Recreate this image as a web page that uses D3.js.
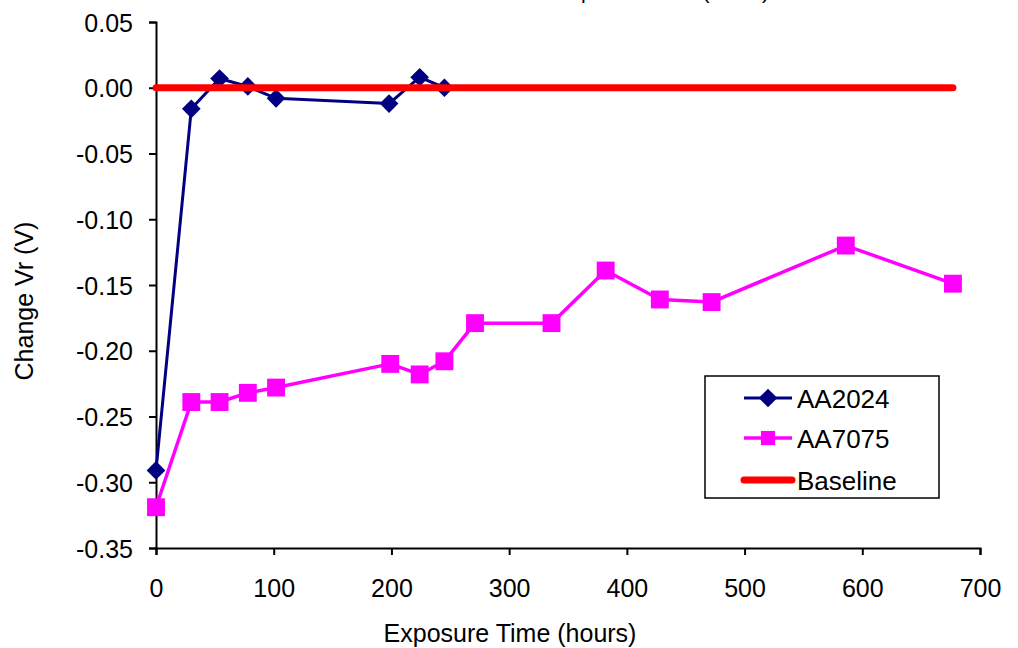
<!DOCTYPE html>
<html>
<head>
<meta charset="utf-8">
<script src="https://cdn.jsdelivr.net/npm/d3@7"></script>
<style>
  html, body { margin: 0; padding: 0; background: #fff; }
  svg { display: block; font-family: "Liberation Sans", Arial, sans-serif; }
</style>
</head>
<body>
<svg id="chart" width="1018" height="648"></svg>
<script>
// ---- data ----
const hoursAA2024 = [0, 30, 54, 78, 102, 198, 224, 245];
const valuesAA2024 = [-0.291, -0.016, 0.007, 0.001, -0.008, -0.012, 0.008, 0.000];
const hoursAA7075 = [0, 30, 54, 78, 102, 199, 224, 245, 271, 336, 382, 428, 472, 586, 677];
const valuesAA7075 = [-0.319, -0.239, -0.239, -0.232, -0.228, -0.210, -0.218, -0.208, -0.179, -0.179, -0.139, -0.161, -0.163, -0.120, -0.149];
const hoursBaseline = [0, 677];
const valuesBaseline = [0, 0];
const xTicks = [0, 100, 200, 300, 400, 500, 600, 700];
const yTicks = [0.05, 0.00, -0.05, -0.10, -0.15, -0.20, -0.25, -0.30, -0.35];
const seriesNames = ["AA2024", "AA7075", "Baseline"];
const titleText = "Rest Potential Shift vs. Exposure Time (hours)";
const xTitle = "Exposure Time (hours)";
const yTitle = "Change Vr (V)";

// ---- layout ----
const svg = d3.select("#chart");
const x = d3.scaleLinear().domain([0, 700]).range([156, 980]);
const y = d3.scaleLinear().domain([-0.35, 0.05]).range([548, 22]);

// title (cut off at top, as in the reference)
svg.append("text")
  .attr("x", 769).attr("y", -1)
  .attr("text-anchor", "end")
  .attr("font-size", 21)
  .attr("fill", "#000")
  .text(titleText);

// axes
const fmtY = d => d3.format(".2f")(d).replace("\u2212", "-");
const xAxis = d3.axisBottom(x).tickValues(xTicks).tickSize(7).tickSizeOuter(7)
  .tickFormat(d3.format("d"));
const yAxis = d3.axisLeft(y).tickValues(yTicks).tickSize(7).tickSizeOuter(7).tickPadding(16)
  .tickFormat(fmtY);

const gx = svg.append("g").attr("transform", `translate(0,${y(-0.35)})`).call(xAxis);
const gy = svg.append("g").attr("transform", `translate(${x(0)},0)`).call(yAxis);
[gx, gy].forEach(g => {
  g.selectAll("path").attr("stroke", "#000").attr("stroke-width", 2);
  g.selectAll("line").attr("stroke", "#000").attr("stroke-width", 2);
  g.selectAll("text").attr("font-size", 25).attr("fill", "#000")
    .attr("font-family", "'Liberation Sans', Arial, sans-serif");
});
gx.selectAll(".tick text").attr("dy", null).attr("y", 49);
gy.selectAll("text").attr("dy", "0.36em");

// axis titles
svg.append("text")
  .attr("x", 510).attr("y", 642)
  .attr("text-anchor", "middle")
  .attr("font-size", 25)
  .text(xTitle);
svg.append("text")
  .attr("transform", "translate(33,301) rotate(-90)")
  .attr("text-anchor", "middle")
  .attr("font-size", 25)
  .text(yTitle);

// series
const line = d3.line().x(d => x(d[0])).y(d => y(d[1]));
const d2024 = hoursAA2024.map((h, i) => [h, valuesAA2024[i]]);
const d7075 = hoursAA7075.map((h, i) => [h, valuesAA7075[i]]);
const dBase = hoursBaseline.map((h, i) => [h, valuesBaseline[i]]);

const colors = { AA2024: "#000080", AA7075: "#FF00FF", Baseline: "#FF0000" };
const diamond = d3.symbol().type(d3.symbolSquare).size(175);
const square = d3.symbol().type(d3.symbolSquare).size(320);

// AA2024
svg.append("path").datum(d2024).attr("d", line)
  .attr("fill", "none").attr("stroke", colors.AA2024).attr("stroke-width", 3)
  .attr("stroke-linejoin", "round");
svg.append("g").selectAll("path").data(d2024).join("path")
  .attr("d", diamond)
  .attr("transform", d => `translate(${x(d[0])},${y(d[1])}) rotate(45)`)
  .attr("fill", colors.AA2024);

// AA7075
svg.append("path").datum(d7075).attr("d", line)
  .attr("fill", "none").attr("stroke", colors.AA7075).attr("stroke-width", 3.5)
  .attr("stroke-linejoin", "round");
svg.append("g").selectAll("path").data(d7075).join("path")
  .attr("d", square)
  .attr("transform", d => `translate(${x(d[0])},${y(d[1])})`)
  .attr("fill", colors.AA7075);

// Baseline
svg.append("path").datum(dBase).attr("d", line)
  .attr("fill", "none").attr("stroke", colors.Baseline).attr("stroke-width", 7)
  .attr("stroke-linecap", "round");

// legend
const lg = svg.append("g");
lg.append("rect").attr("x", 705).attr("y", 376).attr("width", 234).attr("height", 122)
  .attr("fill", "#fff").attr("stroke", "#000").attr("stroke-width", 1.5);
const rows = [398, 438, 480];
seriesNames.forEach((name, i) => {
  const ry = rows[i];
  lg.append("line").attr("x1", 744).attr("x2", 792).attr("y1", ry).attr("y2", ry)
    .attr("stroke", colors[name])
    .attr("stroke-width", name === "Baseline" ? 7 : (name === "AA7075" ? 3.5 : 3))
    .attr("stroke-linecap", name === "Baseline" ? "round" : "butt");
  if (name === "AA2024") {
    lg.append("path").attr("d", diamond).attr("transform", `translate(768,${ry}) rotate(45)`).attr("fill", colors[name]);
  } else if (name === "AA7075") {
    lg.append("path").attr("d", d3.symbol().type(d3.symbolSquare).size(200)()).attr("transform", `translate(768,${ry})`).attr("fill", colors[name]);
  }
  lg.append("text").attr("x", 797).attr("y", ry + 10).attr("font-size", 26).attr("fill", "#000").text(name);
});
</script>
</body>
</html>
